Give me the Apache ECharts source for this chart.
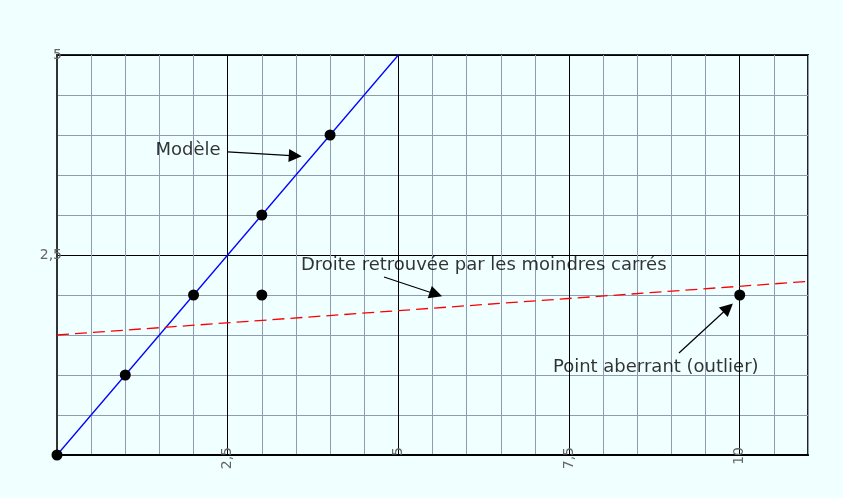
<!DOCTYPE html>
<html>
<head>
<meta charset="utf-8">
<title>Moindres carrés et point aberrant</title>
<script src="https://cdn.jsdelivr.net/npm/echarts@6/dist/echarts.min.js"></script>
<style>
  html, body { margin: 0; padding: 0; background: #f0ffff; }
  #chart { width: 843px; height: 498px; }
</style>
</head>
<body>
<div id="chart"></div>
<script>
// data points
const points = [[0, 0], [1, 1], [2, 2], [3, 3], [4, 4], [3, 2], [10, 2]]
// model line y = x
const modelLine = [[0, 0], [5, 5]]
// fitted line (least squares)
const fitLine = [[0, 1.5], [11, 2.17]]

// tick labels
const xTickValues = [2.5, 5, 7.5, 10]
const xTickLabels = ['2,5', '5', '7,5', '10']
const yTickValues = [2.5, 5]
const yTickLabels = ['2,5', '5']

// annotations: text anchors and arrows (data coords)
const noteTexts = ['Modèle', 'Droite retrouvée par les moindres carrés', 'Point aberrant (outlier)']
const notePos = [[1.92, 3.81], [6.25, 2.375], [8.77, 1.1]]
const arrowFrom = [[2.5, 3.79], [4.79, 2.225], [9.11, 1.275]]
const arrowTo = [[3.49, 3.74], [5.55, 2.01], [9.83, 1.84]]

const minorColor = '#8e9bb0'

const tickFormatter = (values, labels) => (v) => {
  const i = values.findIndex(t => Math.abs(t - v) < 1e-6)
  return i >= 0 ? labels[i] : ''
}

const chart = echarts.init(document.getElementById('chart'))

const option = {
  backgroundColor: '#f0ffff',
  animation: false,
  grid: {
    left: 57,
    top: 55,
    right: 35,
    bottom: 43,
    show: true,
    borderColor: '#222',
    borderWidth: 2,
    backgroundColor: '#f0ffff'
  },
  xAxis: {
    type: 'value',
    min: 0,
    max: 11,
    interval: 0.5,
    axisLine: { show: true, onZero: false, lineStyle: { color: '#000', width: 2 } },
    axisTick: { show: false },
    axisLabel: {
      interval: 0,
      rotate: 90,
      margin: -8,
      color: '#666',
      fontSize: 14,
      fontFamily: 'DejaVu Sans',
      hideOverlap: false,
      formatter: tickFormatter(xTickValues, xTickLabels)
    },
    splitLine: {
      show: true,
      lineStyle: { width: 1, color: ['#000', minorColor, minorColor, minorColor, minorColor] }
    }
  },
  yAxis: {
    type: 'value',
    min: 0,
    max: 5,
    interval: 0.5,
    axisLine: { show: true, onZero: false, lineStyle: { color: '#333', width: 2 } },
    axisTick: { show: false },
    axisLabel: {
      interval: 0,
      margin: -5,
      color: '#666',
      fontSize: 14,
      fontFamily: 'DejaVu Sans',
      formatter: tickFormatter(yTickValues, yTickLabels)
    },
    splitLine: {
      show: true,
      lineStyle: { width: 1, color: ['#000', minorColor, minorColor, minorColor, minorColor] }
    }
  },
  series: [
    {
      name: 'Modèle',
      type: 'line',
      data: modelLine,
      symbol: 'none',
      lineStyle: { color: '#0000ff', width: 1.3 },
      z: 3,
      markLine: {
        silent: true,
        symbol: ['none', 'triangle'],
        symbolSize: 13,
        label: { show: false },
        lineStyle: { color: '#000', width: 1.2, type: 'solid' },
        itemStyle: { color: '#000' },
        data: arrowFrom.map((p, i) => [
          { coord: p, symbol: 'none' },
          { coord: arrowTo[i], symbol: 'triangle', symbolSize: 13 }
        ])
      }
    },
    {
      name: 'Moindres carrés',
      type: 'line',
      data: fitLine,
      symbol: 'none',
      lineStyle: { color: '#ff0000', width: 1.3, type: [12, 6] },
      z: 3
    },
    {
      name: 'Points',
      type: 'scatter',
      data: points,
      symbolSize: 11,
      itemStyle: { color: '#000', opacity: 1 },
      clip: true,
      z: 4
    },
    {
      name: 'Annotations',
      type: 'scatter',
      data: notePos.map((p, i) => ({ value: p, name: noteTexts[i] })),
      symbolSize: 0,
      silent: true,
      label: {
        show: true,
        position: 'inside',
        formatter: '{b}',
        color: '#000',
        fontSize: 18,
        fontFamily: 'DejaVu Sans'
      },
      z: 5
    }
  ]
}

chart.setOption(option)
window.addEventListener('resize', () => chart.resize())
</script>
</body>
</html>
